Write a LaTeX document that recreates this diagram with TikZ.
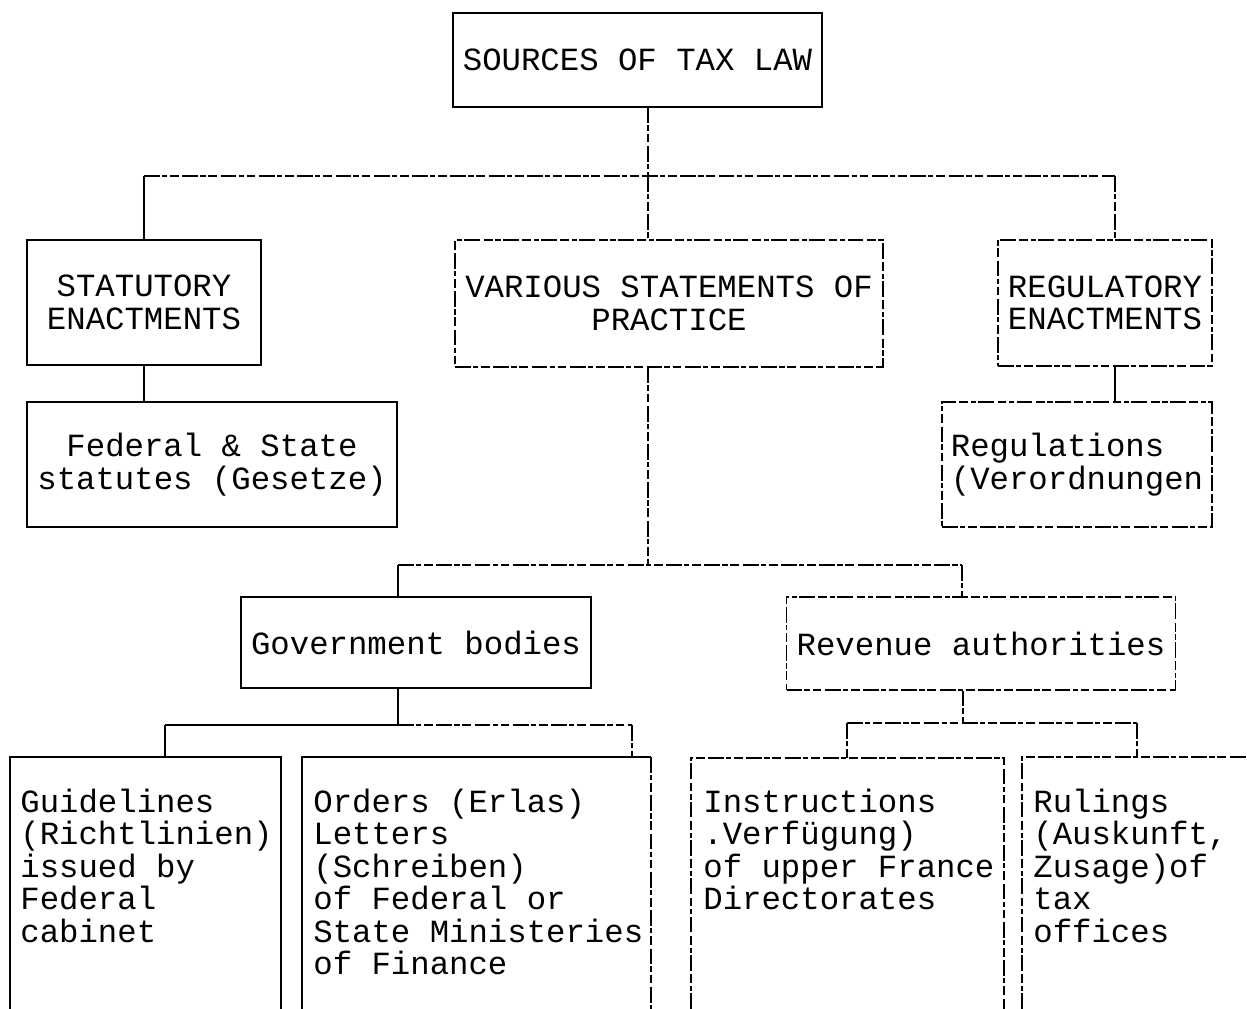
\documentclass[tikz,border=0pt]{standalone}
\usepackage{fontspec}
\setmonofont{Liberation Mono}
\usetikzlibrary{positioning}

\newcommand{\typewr}{\ttfamily\fontsize{18.4pt}{18.5pt}\selectfont}

\tikzset{
    box/.style={draw, line width=0.6pt, inner sep=0pt, align=center, font=\typewr},
    brokenline/.style={line width=0.6pt, dash pattern=on 9pt off 1.2pt on 3pt off 1.6pt on 5pt off 2pt},
    solidline/.style={line width=0.6pt},
    leaf/.style={anchor=base west, inner sep=0pt, align=flush left, text width=7cm, font=\typewr}
}

\begin{document}
\begin{tikzpicture}[x=0.2mm, y=-0.2mm]
        \useasboundingbox (0,0) rectangle (1247,1009);
        \coordinate (edge) at (0,1009);
        % boxes
        \node[box, minimum width=73.8mm, minimum height=18.8mm] (src) at (637.5,60) {SOURCES OF TAX LAW};
        \node[box, minimum width=46.8mm, minimum height=25mm] (stat) at (144,302.5) {STATUTORY\\ENACTMENTS};
        \node[box, brokenline, minimum width=85.6mm, minimum height=25.4mm] (var) at (669,303.5) {VARIOUS STATEMENTS OF\\PRACTICE};
        \node[box, brokenline, minimum width=42.8mm, minimum height=25.2mm] (regy) at (1105,303) {REGULATORY\\ENACTMENTS};
        \node[box, minimum width=74mm, minimum height=25mm] (fed) at (212,464.5) {Federal \& State\\statutes (Gesetze)};
        \node[box, brokenline, align=left, minimum width=54mm, minimum height=25mm] (regs) at (1077,464.5) {Regulations\\(Verordnungen};
        \node[box, minimum width=70mm, minimum height=18.2mm] (gov) at (416,642.5) {Government bodies};
        \node[box, brokenline, minimum width=77.8mm, minimum height=18.6mm] (rev) at (981,643.5) {Revenue authorities};
        % open boxes at the bottom
        \coordinate (gl-nw) at (10,757);
        \coordinate (gl-ne) at (281,757);
        \coordinate (or-nw) at (302,757);
        \coordinate (or-ne) at (651,757);
        \coordinate (ins-nw) at (691,758);
        \coordinate (ins-ne) at (1004,758);
        \coordinate (rul-nw) at (1022,757);
        \coordinate (rul-ne) at (1247,757);
        \draw[solidline] (gl-nw |- edge) -- (gl-nw) -- (gl-ne) -- (gl-ne |- edge);
        \draw[solidline] (or-nw |- edge) -- (or-nw) -- (or-ne);
        \draw[brokenline] (or-ne) -- (or-ne |- edge);
        \draw[brokenline] (ins-nw |- edge) -- (ins-nw) -- (ins-ne) -- (ins-ne |- edge);
        \draw[brokenline] (rul-nw |- edge) -- (rul-nw) -- (rul-ne);
        \node[leaf] (gl) at (20,812) {Guidelines\\(Richtlinien)\\issued by\\Federal\\cabinet};
        \node[leaf] (or) at (313,812) {Orders (Erlas)\\Letters\\(Schreiben)\\of Federal or\\State Ministeries\\of Finance};
        \node[leaf] (ins) at (703,812) {Instructions\\.Verfügung)\\of upper France\\Directorates};
        \node[leaf] (rul) at (1033,812) {Rulings\\(Auskunft,\\Zusage)of\\tax\\offices};
        % first level
        \coordinate (barA) at (648,176);
        \coordinate (barA-l) at (144,176);
        \coordinate (barA-r) at (1115,176);
        \draw[brokenline] (src.south -| barA) -- (barA);
        \draw[brokenline] (barA-l) -- (barA-r);
        \draw[solidline] (barA-l) -- (stat.north);
        \draw[brokenline] (barA) -- (var.north -| barA);
        \draw[brokenline] (barA-r) -- (regy.north -| barA-r);
        \draw[solidline] (stat.south) -- (stat.south |- fed.north);
        \draw[solidline] (regy.south -| barA-r) -- (regs.north -| barA-r);
        % second level
        \coordinate (barB) at (648,565);
        \coordinate (barB-l) at (398,565);
        \coordinate (barB-r) at (962,565);
        \draw[brokenline] (var.south -| barB) -- (barB);
        \draw[brokenline] (barB-l) -- (barB-r);
        \draw[solidline] (barB-l) -- (gov.north -| barB-l);
        \draw[brokenline] (barB-r) -- (rev.north -| barB-r);
        % third level
        \coordinate (barC) at (398,725);
        \coordinate (barC-l) at (165,725);
        \coordinate (barC-r) at (632,725);
        \draw[solidline] (gov.south -| barC) -- (barC);
        \draw[solidline] (barC-l) -- (barC);
        \draw[brokenline] (barC) -- (barC-r);
        \draw[solidline] (barC-l) -- (gl-nw -| barC-l);
        \draw[brokenline] (barC-r) -- (or-nw -| barC-r);
        \coordinate (barD) at (963,723);
        \coordinate (barD-l) at (847,723);
        \coordinate (barD-r) at (1137,723);
        \draw[brokenline] (rev.south -| barD) -- (barD);
        \draw[brokenline] (barD-l) -- (barD-r);
        \draw[brokenline] (barD-l) -- (ins-nw -| barD-l);
        \draw[brokenline] (barD-r) -- (rul-nw -| barD-r);
\end{tikzpicture}
\end{document}
